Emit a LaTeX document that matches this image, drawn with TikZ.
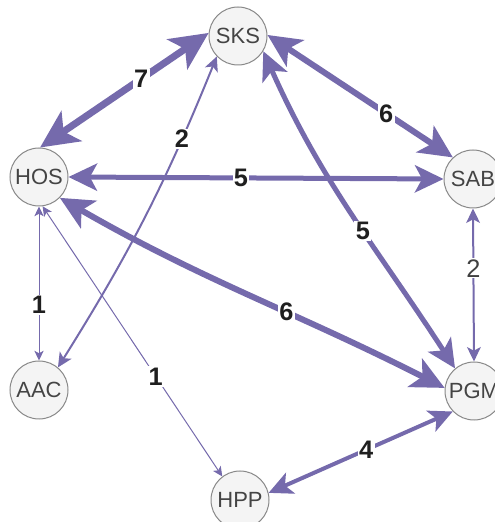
\documentclass[tikz,border=0pt]{standalone}
\usepackage{fontspec}
\setmainfont{Liberation Sans}
\usetikzlibrary{arrows.meta}
\definecolor{edgecol}{RGB}{117,106,172}
\definecolor{stnfill}{RGB}{244,244,244}
\definecolor{stnline}{RGB}{136,136,136}
\definecolor{stntext}{RGB}{68,68,68}
\tikzset{
  stn/.style={circle, draw=stnline, fill=stnfill, line width=0.75pt, minimum size=43.5pt,
    inner sep=0pt, text=stntext, font=\fontsize{16.5}{16.5}\selectfont},
  wt/.style={draw=edgecol, line width=#1*0.75pt,
    {Stealth[length=3.75pt 4.7, width'=0pt 0.95, inset'=0pt 0.25]}-{Stealth[length=3.75pt 4.7, width'=0pt 0.95, inset'=0pt 0.25]}},
  lbl/.style={fill=white, inner sep=1pt, text=black!88, font=\bfseries\fontsize{19}{19}\selectfont},
  lbllight/.style={lbl, font=\fontsize{19}{19}\selectfont, text=black!75}
}
\begin{document}
\begin{tikzpicture}[x=0.75pt, y=0.75pt]
  \useasboundingbox (0,0) rectangle (494,522);
  % stations
  \node[stn] (SKS) at (238,486) {SKS};
  \node[stn] (HOS) at (39,345) {HOS};
  \node[stn] (SAB) at (473,343) {SAB};
  \node[stn] (AAC) at (39,132) {AAC};
  \node[stn] (PGM) at (474,131) {PGM};
  \node[stn] (HPP) at (240,22) {HPP};
  % links
  \draw[wt=7] (HOS.88) -- node[lbl, pos=0.6] {7} (SKS.174);
  \draw[wt=6] (SKS.2) -- node[lbl, pos=0.64] {6} (SAB.133);
  \draw[wt=5] (HOS.east) -- node[lbl, pos=0.46] {5} (SAB.west);
  \draw[wt=5] (SKS.-31) to[out=-66, in=123] node[lbl, pos=0.56] {5} (PGM.130);
  \draw[wt=6] (HOS.-45) to[out=-30, in=153] node[lbl, pos=0.6] {6} (PGM.174);
  \draw[wt=2] (SAB.south) -- node[lbllight, pos=0.39] {2} (PGM.north);
  \draw[wt=1] (HOS.south) -- node[lbl, pos=0.64] {1} (AAC.north);
  \draw[wt=2] (AAC.50) to[bend right=5] node[lbl, pos=0.76] {2} (SKS.-136);
  \draw[wt=1] (HOS.-83) -- node[lbl, pos=0.63] {1} (HPP.127);
  \draw[wt=4] (HPP.14) -- node[lbl, pos=0.53] {4} (PGM.224);
\end{tikzpicture}
\end{document}
